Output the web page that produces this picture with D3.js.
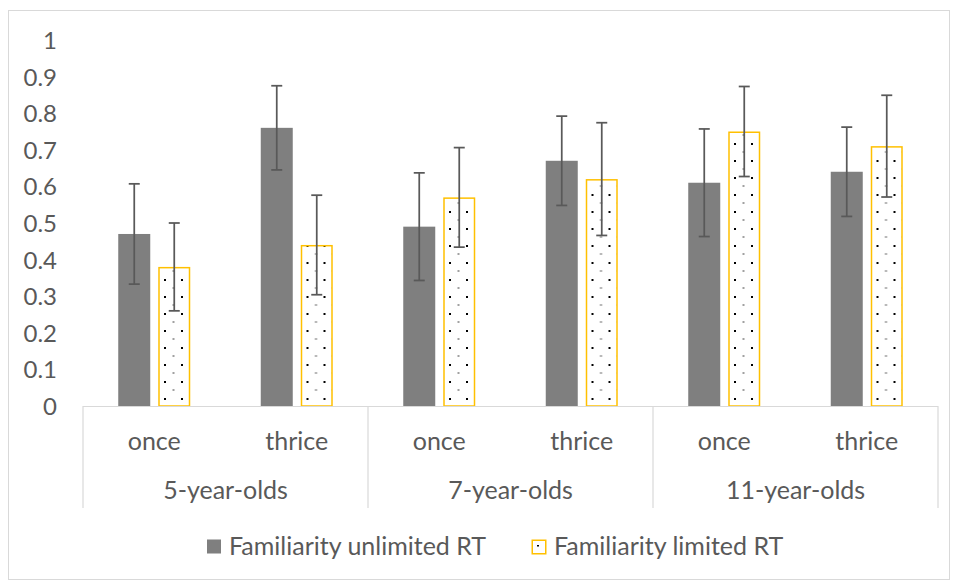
<!DOCTYPE html>
<html>
<head>
<meta charset="utf-8">
<script src="https://cdn.jsdelivr.net/npm/d3@7"></script>
<style>
  html, body { margin: 0; padding: 0; background: #fff; }
  svg { display: block; }
  text { font-family: Lato, "Open Sans", sans-serif; fill: #595959; }
</style>
</head>
<body>
<svg id="chart" width="958" height="583"></svg>
<script>
// ---- data ----
const categories = ["once", "thrice", "once", "thrice", "once", "thrice"];
const groups = ["5-year-olds", "7-year-olds", "11-year-olds"];
const seriesNames = ["Familiarity unlimited RT", "Familiarity limited RT"];
const unlimited = [0.47, 0.76, 0.49, 0.67, 0.61, 0.64];
const unlimitedErr = [0.137, 0.115, 0.147, 0.122, 0.147, 0.122];
const limited = [0.38, 0.44, 0.57, 0.62, 0.75, 0.71];
const limitedErr = [0.12, 0.136, 0.136, 0.154, 0.123, 0.139];
const yTicks = [0, 0.1, 0.2, 0.3, 0.4, 0.5, 0.6, 0.7, 0.8, 0.9, 1];

// ---- layout ----
const svg = d3.select("#chart");
const plotLeft = 83, plotRight = 938, plotTop = 40, plotBottom = 406;
const fontSize = 25;
const yFontSize = 24;

// outer border
svg.append("rect")
  .attr("x", 8.5).attr("y", 10.5).attr("width", 941).attr("height", 569)
  .attr("fill", "none").attr("stroke", "#d9d9d9").attr("stroke-width", 1);

// pattern of dots
const defs = svg.append("defs");
const pat = defs.append("pattern")
  .attr("id", "dots").attr("patternUnits", "userSpaceOnUse")
  .attr("x", 166).attr("y", 279).attr("width", 17).attr("height", 17);
pat.append("rect").attr("width", 17).attr("height", 17).attr("fill", "#fff");
pat.append("rect").attr("x", 0).attr("y", 0).attr("width", 2).attr("height", 2).attr("fill", "#000");
pat.append("rect").attr("x", 8.5).attr("y", 8.5).attr("width", 2).attr("height", 1).attr("fill", "#444");

const legPat = defs.append("pattern")
  .attr("id", "legdots").attr("patternUnits", "userSpaceOnUse")
  .attr("x", 537).attr("y", 545).attr("width", 17).attr("height", 17);
legPat.append("rect").attr("width", 17).attr("height", 17).attr("fill", "#fff");
legPat.append("rect").attr("x", 0).attr("y", 0).attr("width", 2).attr("height", 1.5).attr("fill", "#000");

// scales
const catIdx = d3.range(categories.length);
const x0 = d3.scaleBand().domain(catIdx).range([plotLeft, plotRight]).padding(0);
const clusterW = 72;
const x1 = d3.scaleBand().domain([0, 1])
  .range([(x0.bandwidth() - clusterW) / 2, (x0.bandwidth() + clusterW) / 2])
  .paddingInner(0.2).paddingOuter(0);
const y = d3.scaleLinear().domain([0, 1]).range([plotBottom, plotTop]);
const xg = d3.scaleBand().domain(d3.range(groups.length)).range([plotLeft, plotRight]).padding(0);

// y axis labels
const yAxis = d3.axisLeft(y).tickValues(yTicks).tickSize(0).tickPadding(0)
  .tickFormat(d => d3.format("")(+d.toFixed(1)));
const gy = svg.append("g").attr("transform", "translate(57,0)").call(yAxis);
gy.select(".domain").remove();
gy.selectAll("text").attr("font-size", yFontSize).attr("font-family", "Lato, sans-serif")
  .attr("fill", "#595959").attr("dy", "0.35em");

// bars
const rows = catIdx.map(i => [
  { s: 0, i, v: unlimited[i], e: unlimitedErr[i] },
  { s: 1, i, v: limited[i], e: limitedErr[i] }
]);
const gBars = svg.append("g");
const cg = gBars.selectAll("g.cat").data(rows).join("g")
  .attr("class", "cat").attr("transform", (d, i) => `translate(${x0(i)},0)`);

cg.selectAll("rect.bar").data(d => d).join("rect")
  .attr("class", "bar")
  .attr("x", d => x1(d.s) + (d.s === 1 ? 0.75 : 0))
  .attr("y", d => y(d.v) + (d.s === 1 ? 0.75 : 0))
  .attr("width", d => x1.bandwidth() - (d.s === 1 ? 1.5 : 0))
  .attr("height", d => y(0) - y(d.v) - (d.s === 1 ? 0.75 : 0))
  .attr("fill", d => d.s === 0 ? "#7f7f7f" : "url(#dots)")
  .attr("stroke", d => d.s === 0 ? "none" : "#ffc000")
  .attr("stroke-width", 1.5);

// axis line
svg.append("line").attr("x1", plotLeft).attr("x2", plotRight)
  .attr("y1", plotBottom + 0.5).attr("y2", plotBottom + 0.5)
  .attr("stroke", "#d9d9d9").attr("stroke-width", 1.2);
// group separators
const seps = d3.range(groups.length + 1).map(k => k < groups.length ? xg(k) : plotRight);
svg.selectAll("line.sep").data(seps).join("line").attr("class", "sep")
  .attr("x1", d => d).attr("x2", d => d)
  .attr("y1", plotBottom).attr("y2", 508)
  .attr("stroke", "#d9d9d9").attr("stroke-width", 1.2);

// error bars
const eb = cg.selectAll("g.err").data(d => d).join("g").attr("class", "err")
  .attr("transform", d => `translate(${x1(d.s) + x1.bandwidth() / 2},0)`);
eb.append("line").attr("x1", 0).attr("x2", 0)
  .attr("y1", d => y(d.v + d.e)).attr("y2", d => y(d.v - d.e))
  .attr("stroke", "#595959").attr("stroke-width", 1.75);
eb.append("line").attr("x1", -5.5).attr("x2", 5.5)
  .attr("y1", d => y(d.v + d.e)).attr("y2", d => y(d.v + d.e))
  .attr("stroke", "#595959").attr("stroke-width", 1.75);
eb.append("line").attr("x1", -5.5).attr("x2", 5.5)
  .attr("y1", d => y(d.v - d.e)).attr("y2", d => y(d.v - d.e))
  .attr("stroke", "#595959").attr("stroke-width", 1.75);

// category labels
svg.selectAll("text.cat").data(categories).join("text").attr("class", "cat")
  .attr("x", (d, i) => x0(i) + x0.bandwidth() / 2).attr("y", 450)
  .attr("text-anchor", "middle").attr("font-size", fontSize).text(d => d);
svg.selectAll("text.grp").data(groups).join("text").attr("class", "grp")
  .attr("x", (d, i) => xg(i) + xg.bandwidth() / 2).attr("y", 499)
  .attr("text-anchor", "middle").attr("font-size", fontSize).text(d => d);

// legend
const legend = [
  { name: seriesNames[0], sx: 207, tx: 229, s: 0 },
  { name: seriesNames[1], sx: 531.5, tx: 554, s: 1 }
];
const lg = svg.selectAll("g.leg").data(legend).join("g").attr("class", "leg");
lg.append("rect")
  .attr("x", d => d.sx + (d.s ? 0.75 : 0)).attr("y", d => 539.5 + (d.s ? 0.75 : 0))
  .attr("width", d => d.s ? 13.5 : 14).attr("height", d => d.s ? 13.5 : 14)
  .attr("fill", d => d.s === 0 ? "#7f7f7f" : "url(#legdots)")
  .attr("stroke", d => d.s === 0 ? "none" : "#ffc000").attr("stroke-width", 1.5);
lg.append("text").attr("x", d => d.tx).attr("y", 555)
  .attr("font-size", fontSize).text(d => d.name);
</script>
</body>
</html>
